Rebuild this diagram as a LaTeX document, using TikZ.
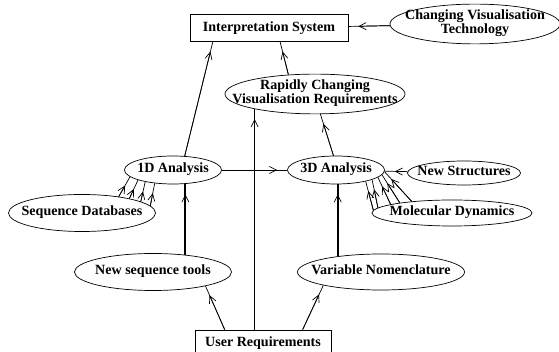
\documentclass[tikz,border=0pt]{standalone}
\usepackage{fontspec}
\setmainfont{Liberation Serif}
\usetikzlibrary{shapes.geometric,arrows.meta,calc}
\newcommand{\dgfont}{\fontsize{10}{10}\selectfont\bfseries}
% label with no width of its own, so the ellipse keeps its minimum size
\newcommand{\ovtext}[1]{\makebox[0pt]{\begin{tabular}{@{}c@{}}#1\end{tabular}}}
\tikzset{
  box/.style={draw, rectangle, inner sep=0pt, line width=0.5pt, font=\dgfont},
  oval/.style={draw, ellipse, inner sep=0pt, line width=0.5pt, font=\dgfont},
  arr/.style={draw, line width=0.5pt, postaction={draw, -{Straight Barb[length=5pt,width=5pt,line width=0.5pt]}, shorten >=2.5mm}},
  heavy/.style={arr, line width=1.3pt},
}

\begin{document}
\begin{tikzpicture}[x=0.025cm, y=-0.025cm]
  \useasboundingbox (0,0) rectangle (559,352);
  % nodes
  \node[box, minimum width=3.95cm, minimum height=0.675cm] (interp) at (269,28) {Interpretation System};
  \node[oval, minimum width=4.25cm, minimum height=0.9cm] (tech) at (475,24) {\ovtext{Changing Visualisation\\Technology}};
  \node[oval, minimum width=4.5cm, minimum height=0.95cm] (rapid) at (315,94) {\ovtext{Rapidly Changing\\Visualisation Requirements}};
  \node[oval, minimum width=2.425cm, minimum height=0.7cm] (one) at (173,170) {\ovtext{1D Analysis}};
  \node[oval, minimum width=2.425cm, minimum height=0.7cm] (three) at (336,170) {\ovtext{3D Analysis}};
  \node[oval, minimum width=3.675cm, minimum height=0.925cm] (seqdb) at (82,213) {\ovtext{Sequence Databases}};
  \node[oval, minimum width=2.825cm, minimum height=0.6cm] (newstr) at (464,173) {\ovtext{New Structures}};
  \node[oval, minimum width=4cm, minimum height=0.65cm] (moldyn) at (452,213) {\ovtext{Molecular Dynamics}};
  \node[oval, minimum width=3.925cm, minimum height=0.925cm] (newseq) at (153,272) {\ovtext{New sequence tools}};
  \node[oval, minimum width=4.175cm, minimum height=0.9cm] (varnom) at (381,272) {\ovtext{Variable Nomenclature}};
  \node[box, minimum width=3.4cm, minimum height=0.65cm] (user) at (263,343) {User Requirements};
  % connectors
  \draw[arr] (tech) -- (interp);
  \draw[arr] (one.50) -- ($(interp.south west)!.146!(interp.south east)$);
  \draw[arr] (rapid.144) -- ($(interp.south west)!.57!(interp.south east)$);
  \draw[arr] (three.100) -- (rapid.-75);
  \draw[arr] (one) -- (three);
  \draw[arr] (user.north -| rapid.194) -- (rapid.194);
  \draw[heavy] (newseq.28) -- (newseq.28 |- one.south);
  \draw[heavy] (varnom.160) -- (varnom.160 |- three.south);
  \draw[arr] ($(user.north west)!.22!(user.north east)$) -- (newseq.-15);
  \draw[arr] ($(user.north west)!.79!(user.north east)$) -- (varnom.193);
  \draw[arr] (newstr) -- (three);
  \foreach \s/\t in {24/189, 17/196, 11/203, 6/216}
    \draw[arr] (seqdb.\s) -- (one.\t);
  \foreach \s/\t in {178/-21, 176/-15, 172/-10, 169/-6, 164/-2}
    \draw[arr] (moldyn.\s) -- (three.\t);
\end{tikzpicture}
\end{document}
